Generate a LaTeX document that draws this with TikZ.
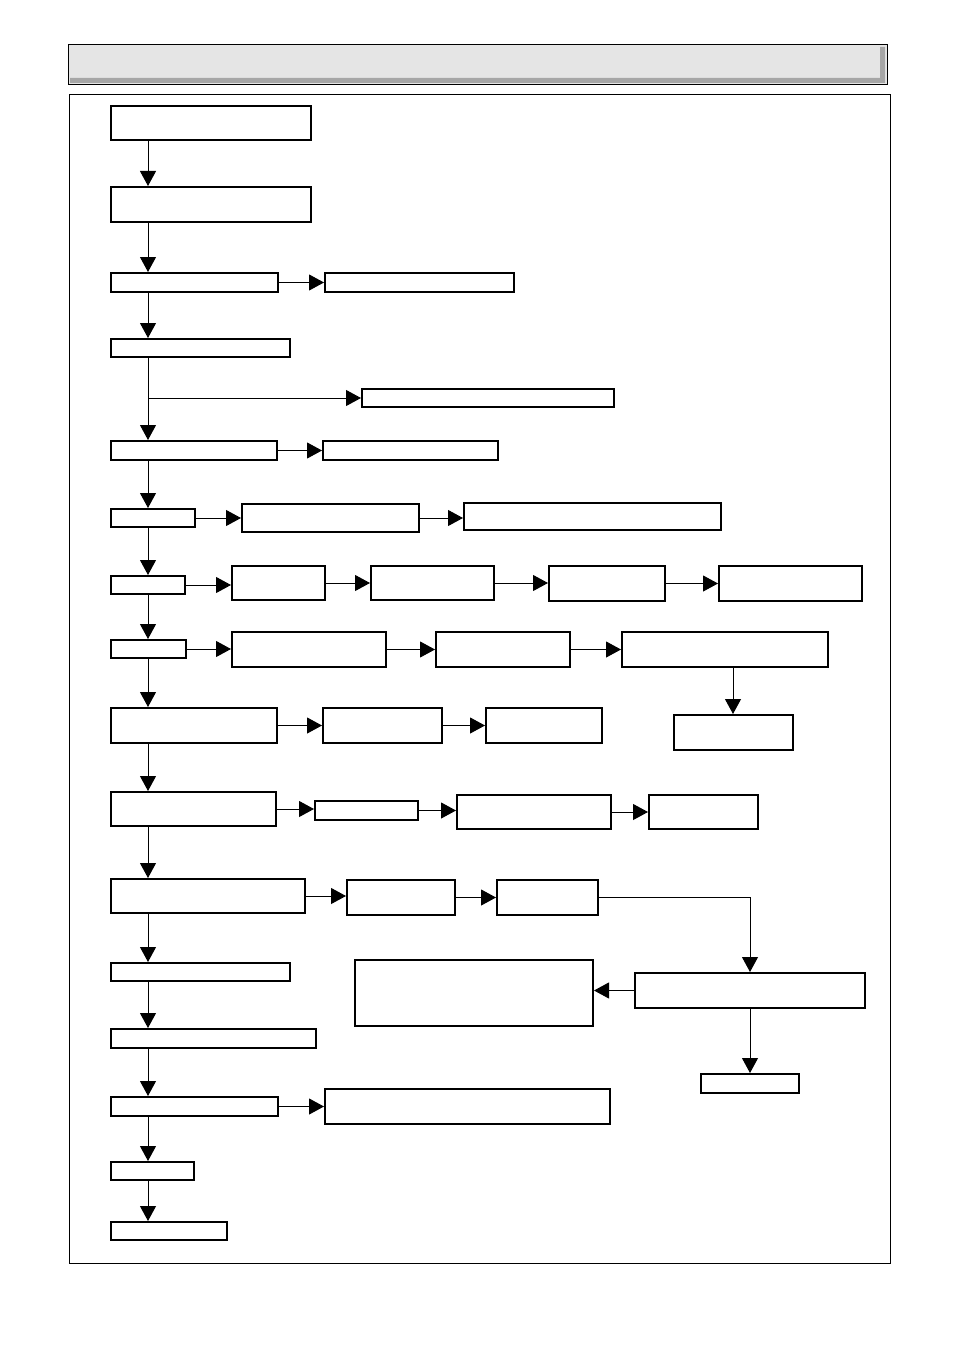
\documentclass[tikz,border=0pt]{standalone}
\usetikzlibrary{arrows.meta}

\begin{document}
\begin{tikzpicture}[x=1pt, y=-1pt,
  box/.style={draw=black, line width=2pt, fill=white, inner sep=0pt},
  arr/.style={line width=1pt, -{Triangle[length=15pt, width=16pt]}}]

\useasboundingbox (0,0) rectangle (954,1351);

% title bar
\fill[black!10] (68,45) rectangle (887,85);
\fill[gray!70] (70,78) -- (880,78) -- (880,47) -- (885,47) -- (885,83) -- (70,83) -- cycle;
\draw[line width=1pt] (68,45) rectangle (887,85);
\draw[line width=1pt] (69,95) rectangle (890,1263);

\coordinate (spine) at (148,0);

% main column
\node[box, minimum width=200pt, minimum height=34pt] (A) at (211,123) {};
\node[box, minimum width=200pt, minimum height=35pt] (B) at (211,204.5) {};
\node[box, minimum width=167pt, minimum height=19pt] (C) at (194.5,282.5) {};
\node[box, minimum width=179pt, minimum height=18pt] (D) at (200.5,348) {};
\node[box, minimum width=166pt, minimum height=19pt] (E) at (194,450.5) {};
\node[box, minimum width=84pt, minimum height=18pt] (F) at (153,518) {};
\node[box, minimum width=74pt, minimum height=18pt] (G) at (148,585) {};
\node[box, minimum width=75pt, minimum height=18pt] (H) at (148.5,649) {};
\node[box, minimum width=166pt, minimum height=35pt] (I) at (194,725.5) {};
\node[box, minimum width=165pt, minimum height=34pt] (J) at (193.5,809) {};
\node[box, minimum width=194pt, minimum height=34pt] (K) at (208,896) {};
\node[box, minimum width=179pt, minimum height=18pt] (L) at (200.5,972) {};
\node[box, minimum width=205pt, minimum height=19pt] (M) at (213.5,1038.5) {};
\node[box, minimum width=167pt, minimum height=19pt] (N) at (194.5,1106.5) {};
\node[box, minimum width=83pt, minimum height=18pt] (O) at (152.5,1171) {};
\node[box, minimum width=116pt, minimum height=18pt] (P) at (169,1231) {};

% side boxes
\node[box, minimum width=189pt, minimum height=19pt] (C2) at (419.5,282.5) {};
\node[box, minimum width=252pt, minimum height=18pt] (D2) at (488,398) {};
\node[box, minimum width=175pt, minimum height=19pt] (E2) at (410.5,450.5) {};
\node[box, minimum width=177pt, minimum height=28pt] (F2) at (330.5,518) {};
\node[box, minimum width=257pt, minimum height=27pt] (F3) at (592.5,516.5) {};
\node[box, minimum width=93pt, minimum height=34pt] (G2) at (278.5,583) {};
\node[box, minimum width=123pt, minimum height=34pt] (G3) at (432.5,583) {};
\node[box, minimum width=116pt, minimum height=35pt] (G4) at (607,583.5) {};
\node[box, minimum width=143pt, minimum height=35pt] (G5) at (790.5,583.5) {};
\node[box, minimum width=154pt, minimum height=35pt] (H2) at (309,649.5) {};
\node[box, minimum width=134pt, minimum height=35pt] (H3) at (503,649.5) {};
\node[box, minimum width=206pt, minimum height=35pt] (H4) at (725,649.5) {};
\node[box, minimum width=119pt, minimum height=35pt] (H5) at (733,732.5) {};
\node[box, minimum width=119pt, minimum height=35pt] (I2) at (382.5,725.5) {};
\node[box, minimum width=116pt, minimum height=35pt] (I3) at (544,725.5) {};
\node[box, minimum width=103pt, minimum height=19pt] (J2) at (366.5,810.5) {};
\node[box, minimum width=154pt, minimum height=34pt] (J3) at (534,812) {};
\node[box, minimum width=109pt, minimum height=34pt] (J4) at (703.5,812) {};
\node[box, minimum width=108pt, minimum height=35pt] (K2) at (401,897.5) {};
\node[box, minimum width=101pt, minimum height=35pt] (K3) at (547.5,897.5) {};
\node[box, minimum width=230pt, minimum height=35pt] (L4) at (750,990.5) {};
\node[box, minimum width=238pt, minimum height=66pt] (Lb) at (474,993) {};
\node[box, minimum width=98pt, minimum height=19pt] (M4) at (750,1083.5) {};
\node[box, minimum width=285pt, minimum height=35pt] (N2) at (467.5,1106.5) {};

% spine
\foreach \a/\b in {A/B, B/C, C/D, D/E, E/F, F/G, G/H, H/I, I/J, J/K, K/L, L/M, M/N, N/O, O/P}
  \draw[arr] (\a.south -| spine) -- (\b.north -| spine);
\draw[arr] (D2.west -| spine) -- (D2.west);

% rows
\foreach \a/\b in {C/C2, E/E2, F/F2, F2/F3, G/G2, G2/G3, G3/G4, G4/G5, H/H2, H2/H3, H3/H4, I/I2, I2/I3, J/J2, J2/J3, J3/J4, K/K2, K2/K3, N/N2}
  \draw[arr] (\a.east) -- (\a.east -| \b.west);
\draw[arr] (H4.south -| H5.north) -- (H5.north);
\draw[arr] (K3.east) -| (L4.north);
\draw[arr] (L4.west) -- (L4.west -| Lb.east);
\draw[arr] (L4.south) -- (M4.north);

\end{tikzpicture}
\end{document}
